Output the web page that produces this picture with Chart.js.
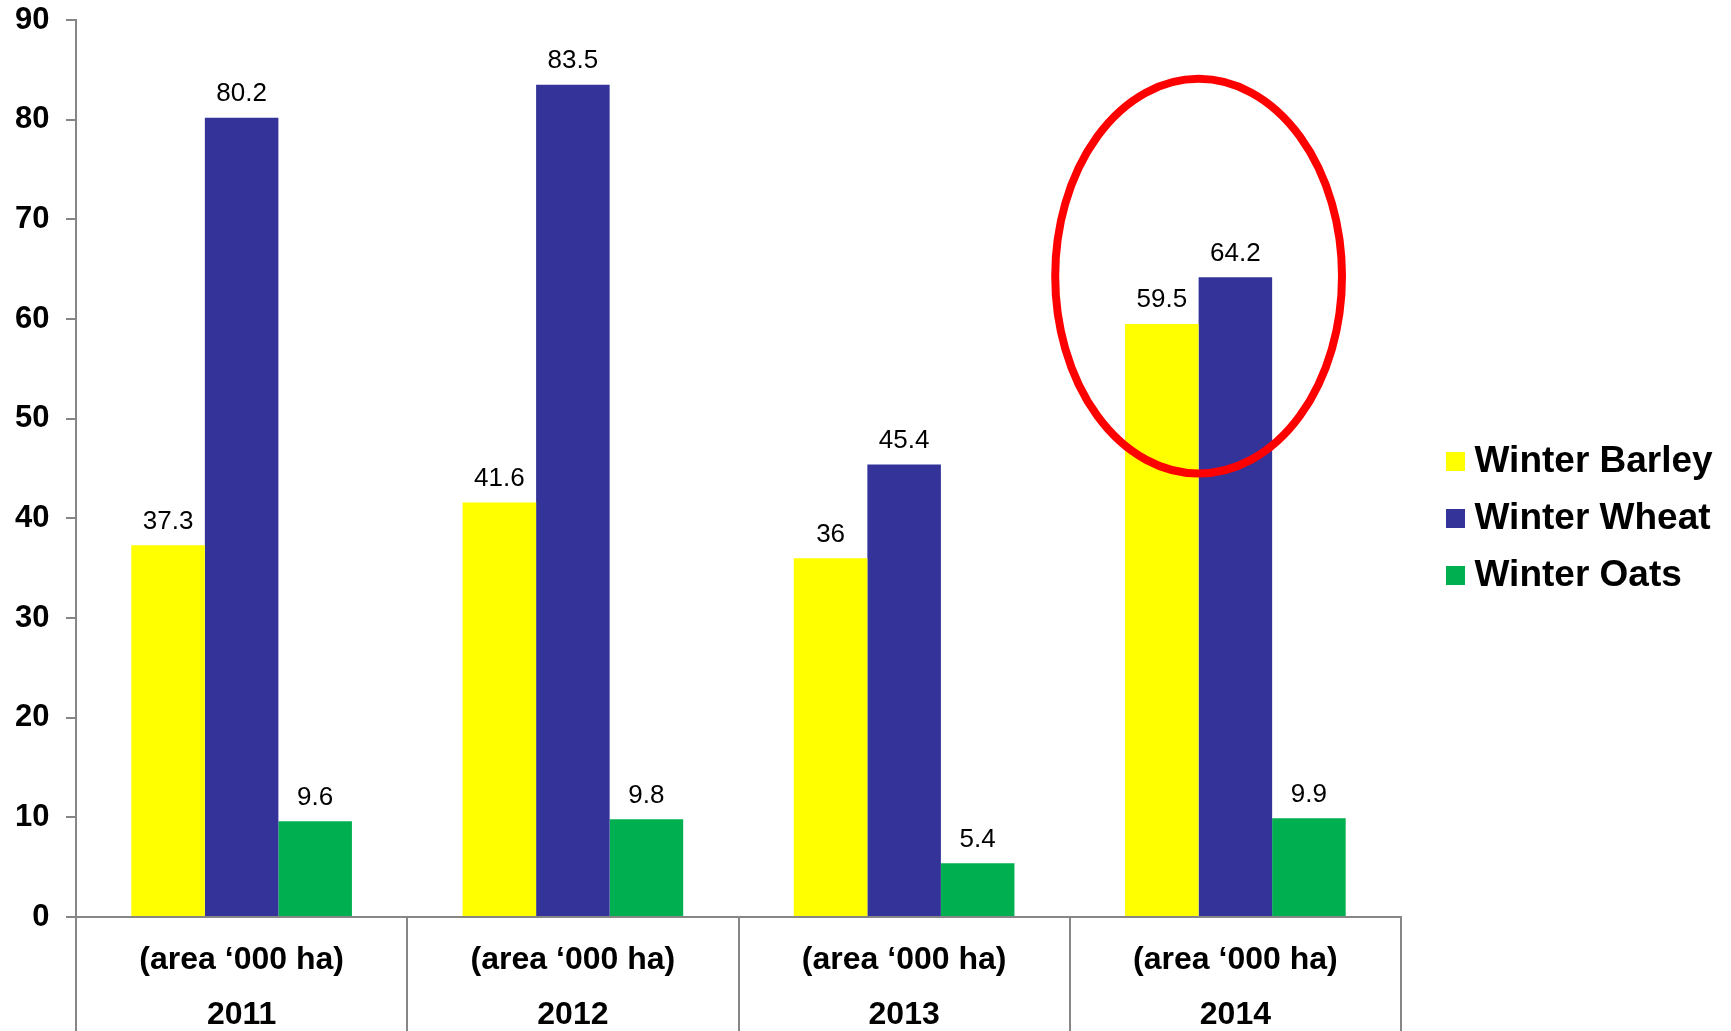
<!DOCTYPE html>
<html>
<head>
<meta charset="utf-8">
<script src="https://cdn.jsdelivr.net/npm/chart.js@4.4.1/dist/chart.umd.min.js"></script>
<style>
  html, body { margin: 0; padding: 0; background: #ffffff; overflow: hidden; }
  #wrap { width: 1731px; height: 1031px; position: relative; }
</style>
</head>
<body>
<div id="wrap"><canvas id="chart"></canvas></div>
<script>
// ---- data ----
const years = ['2011', '2012', '2013', '2014'];
const categoryCaption = '(area \u2018000 ha)';
const seriesNames = ['Winter Barley', 'Winter Wheat', 'Winter Oats'];
const winterBarley = [37.3, 41.6, 36, 59.5];
const winterWheat = [80.2, 83.5, 45.4, 64.2];
const winterOats = [9.6, 9.8, 5.4, 9.9];
const yMin = 0;
const yMax = 90;
const yStep = 10;
// highlighted category (red ellipse annotation)
const highlightIndex = 3;
const highlightCenterValue = 64.3;
const highlightRadiusValue = 19.8;

// ---- styles ----
const FONT = "'Liberation Sans', Arial, Helvetica, sans-serif";
const AXIS_GREY = '#868686';
const colors = ['#FFFF00', '#333399', '#00B050'];

const labels = years.map(y => [categoryCaption, y]);
const seriesValues = [winterBarley, winterWheat, winterOats];

const valueLabelPlugin = {
  id: 'valueLabels',
  afterDatasetsDraw(chart) {
    const ctx = chart.ctx;
    ctx.save();
    ctx.font = '26px ' + FONT;
    ctx.fillStyle = '#000000';
    ctx.textAlign = 'center';
    ctx.textBaseline = 'alphabetic';
    chart.data.datasets.forEach((ds, di) => {
      const meta = chart.getDatasetMeta(di);
      meta.data.forEach((el, i) => {
        ctx.fillText(String(ds.data[i]), el.x, el.y - 16.5);
      });
    });
    ctx.restore();
  }
};

const ellipsePlugin = {
  id: 'highlightEllipse',
  afterDatasetsDraw(chart) {
    const meta = chart.getDatasetMeta(1);
    const el = meta.data[highlightIndex];
    if (!el) return;
    const yScale = chart.scales.y;
    const cx = el.x - el.width / 2;
    const cy = yScale.getPixelForValue(highlightCenterValue);
    const ry = Math.abs(yScale.getPixelForValue(highlightCenterValue + highlightRadiusValue) - cy);
    const rx = el.width * 1.95;
    const ctx = chart.ctx;
    ctx.save();
    ctx.beginPath();
    ctx.ellipse(cx, cy, rx, ry, 0, 0, Math.PI * 2);
    ctx.lineWidth = 8;
    ctx.strokeStyle = '#FF0000';
    ctx.stroke();
    ctx.restore();
  }
};

new Chart(document.getElementById('chart'), {
  type: 'bar',
  data: {
    labels: labels,
    datasets: seriesNames.map((name, i) => ({
      label: name,
      data: seriesValues[i],
      backgroundColor: colors[i],
      borderWidth: 0,
      categoryPercentage: 0.666,
      barPercentage: 1.0
    }))
  },
  options: {
    responsive: true,
    maintainAspectRatio: false,
    animation: false,
    layout: {
      padding: { top: 6, right: 9, bottom: 0, left: 0 }
    },
    plugins: {
      tooltip: { enabled: false },
      title: {
        display: true,
        text: '',
        padding: 0,
        font: { size: 14, lineHeight: 1 }
      },
      legend: {
        position: 'right',
        align: 'center',
        labels: {
          color: '#000000',
          font: { family: FONT, size: 37, weight: 'bold' },
          boxWidth: 1,
          boxHeight: 1,
          padding: 20,
          generateLabels(chart) {
            const items = Chart.defaults.plugins.legend.labels.generateLabels(chart);
            items.forEach(it => {
              it.strokeStyle = it.fillStyle;
              it.lineWidth = 18;
              it.lineJoin = 'miter';
            });
            return items;
          }
        }
      }
    },
    scales: {
      x: {
        offset: true,
        grid: {
          display: true,
          offset: true,
          drawOnChartArea: false,
          drawTicks: true,
          tickLength: 114,
          color: AXIS_GREY,
          lineWidth: 2
        },
        border: { display: true, color: AXIS_GREY, width: 2 },
        ticks: {
          color: '#000000',
          font: { family: FONT, size: 32, weight: 'bold', lineHeight: 1.71875 },
          padding: -98.5,
          maxRotation: 0,
          autoSkip: false
        },
        afterFit(scale) { scale.height = 114; }
      },
      y: {
        min: yMin,
        max: yMax,
        grid: {
          display: true,
          drawOnChartArea: false,
          drawTicks: true,
          tickLength: 10,
          color: AXIS_GREY,
          lineWidth: 2
        },
        border: { display: true, color: AXIS_GREY, width: 2 },
        ticks: {
          stepSize: yStep,
          color: '#000000',
          font: { family: FONT, size: 31, weight: 'bold', lineHeight: '1px' },
          padding: 16.5
        },
        afterFit(scale) { scale.width = 76; }
      },
      spacer: {
        type: 'linear',
        position: 'right',
        display: true,
        grid: { display: false, drawTicks: false },
        border: { display: false },
        ticks: { display: false },
        afterFit(scale) { scale.width = 34; }
      }
    }
  },
  plugins: [valueLabelPlugin, ellipsePlugin]
});
</script>
</body>
</html>
